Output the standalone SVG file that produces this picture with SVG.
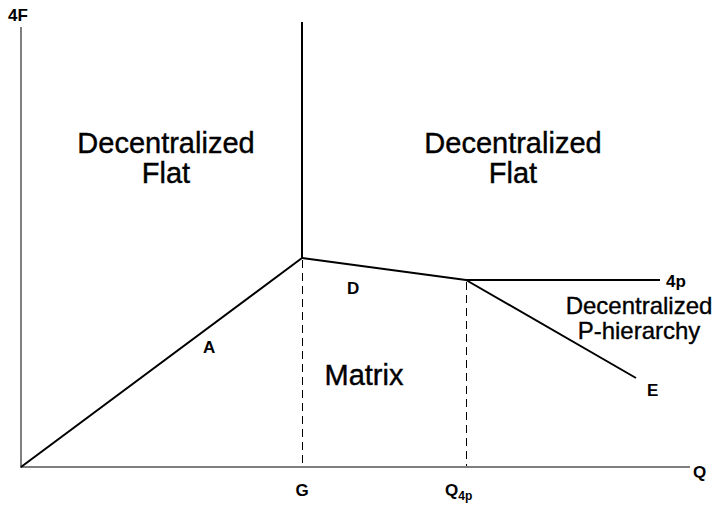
<svg xmlns="http://www.w3.org/2000/svg" width="722" height="506" viewBox="0 0 722 506">
<style>
.ax{stroke:#555;stroke-width:1.5;fill:none}
.ln{stroke:#000;stroke-width:2;fill:none}
.ds{stroke:#000;stroke-width:1;stroke-dasharray:8,5;fill:none}
.lb{font-family:"Liberation Sans",Arial,sans-serif;font-weight:bold;font-size:17px;fill:#000}
.big{font-family:"Liberation Sans",Arial,sans-serif;font-size:29px;fill:#000;stroke:#000;stroke-width:0.4;text-anchor:middle}
.mid{font-family:"Liberation Sans",Arial,sans-serif;font-size:24px;fill:#000;stroke:#000;stroke-width:0.35;text-anchor:middle}
</style>
<rect width="722" height="506" fill="#fff"/>
<g id="axes">
<line class="ax" x1="21" y1="27" x2="21" y2="468"/>
<line class="ax" x1="21" y1="467" x2="690" y2="467"/>
</g>
<g id="connectors">
<line class="ln" x1="21" y1="467" x2="302" y2="258"/>
<line class="ln" x1="302" y1="22" x2="302" y2="258"/>
<line class="ln" x1="302" y1="258" x2="466" y2="280"/>
<line class="ln" x1="466" y1="280" x2="660" y2="280"/>
<line class="ln" x1="466" y1="280" x2="636" y2="378"/>
<line class="ds" x1="302.5" y1="260" x2="302.5" y2="466"/>
<line class="ds" x1="466.5" y1="282" x2="466.5" y2="466"/>
</g>
<g id="labels">
<text class="lb" x="8" y="21">4F</text>
<text class="lb" x="693" y="478">Q</text>
<text class="lb" x="302" y="496" text-anchor="middle">G</text>
<text class="lb" x="445" y="496">Q<tspan font-size="12" dy="4">4p</tspan></text>
<text class="lb" x="203" y="353">A</text>
<text class="lb" x="347" y="294">D</text>
<text class="lb" x="666" y="287" font-size="16">4p</text>
<text class="lb" x="647" y="396">E</text>
</g>
<g id="region-left"><text class="big" x="166" y="153">Decentralized</text><text class="big" x="166" y="183">Flat</text></g>
<g id="region-right"><text class="big" x="513" y="153">Decentralized</text><text class="big" x="513" y="183">Flat</text></g>
<g id="region-matrix"><text class="big" x="364" y="385">Matrix</text></g>
<g id="region-phier"><text class="mid" x="639" y="314">Decentralized</text><text class="mid" x="639" y="339">P-hierarchy</text></g>
</svg>
